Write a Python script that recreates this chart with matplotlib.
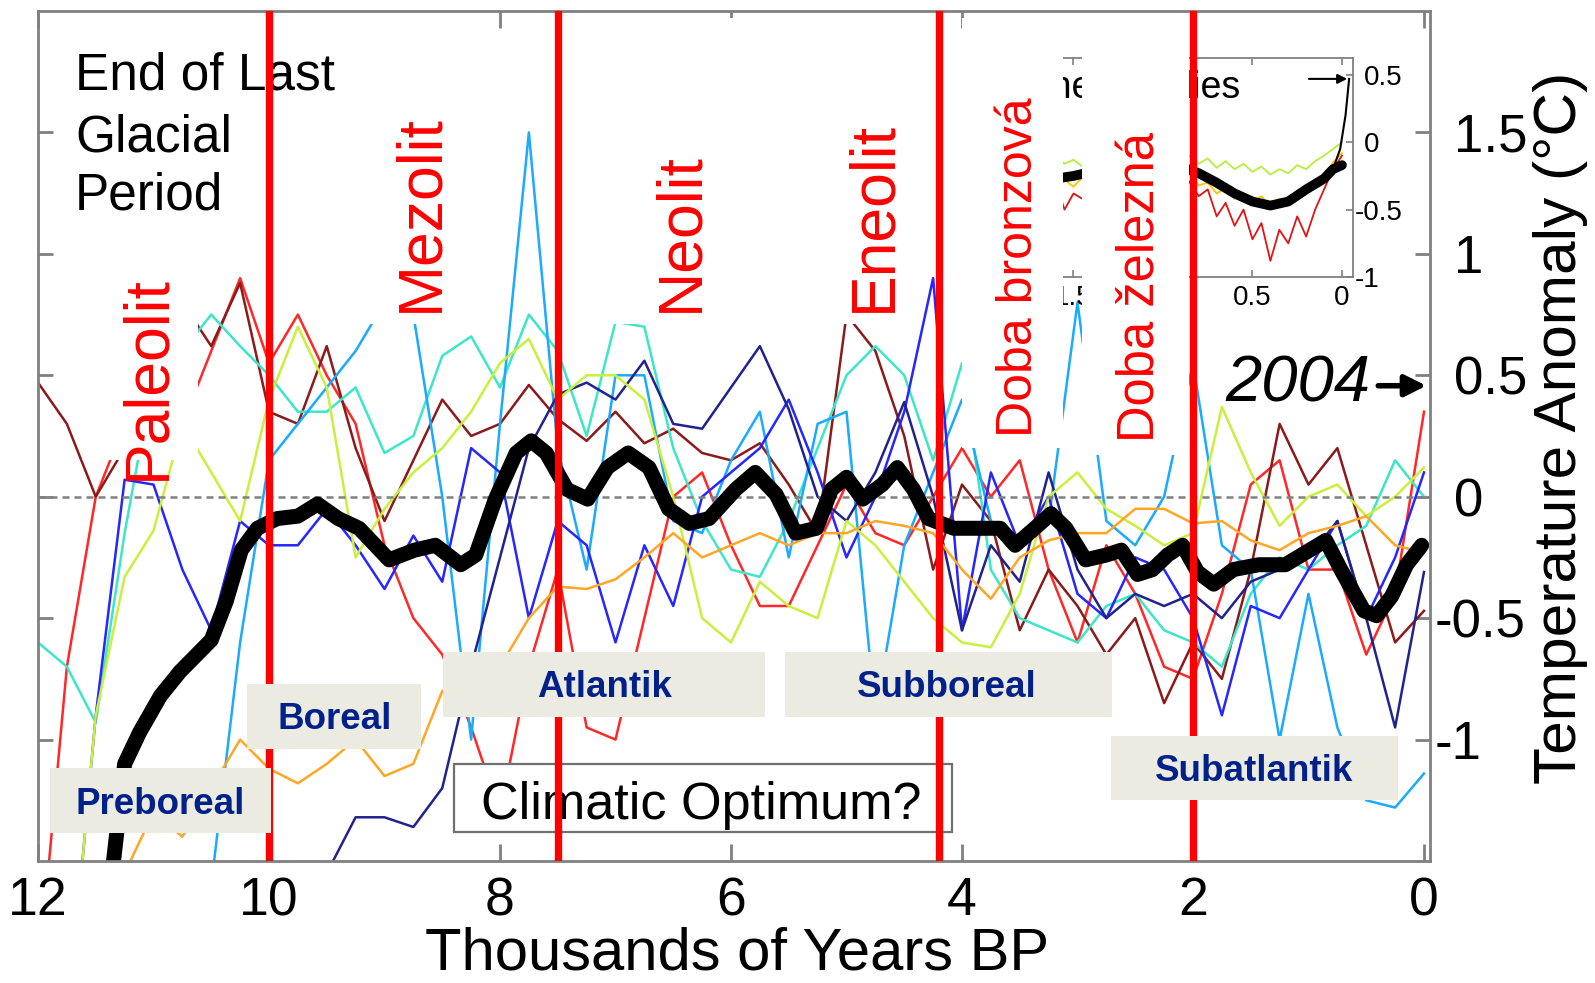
import numpy as np
import matplotlib
matplotlib.use('Agg')
import matplotlib.pyplot as plt
from matplotlib.patches import Rectangle
from matplotlib.transforms import ScaledTranslation

plt.rcParams['font.family'] = ['Liberation Sans', 'DejaVu Sans']
nan = np.nan

#-------------------------------------------------------------------------------
# proxy reconstructions (thousands of years BP, temperature anomaly degC)
kyr = [12.0, 11.75, 11.5, 11.25, 11.0, 10.75, 10.5, 10.25, 10.0, 9.75, 9.5, 9.25,
       9.0, 8.75, 8.5, 8.25, 8.0, 7.75, 7.5, 7.25, 7.0, 6.75, 6.5, 6.25,
       6.0, 5.75, 5.5, 5.25, 5.0, 4.75, 4.5, 4.25, 4.0, 3.75, 3.5, 3.25,
       3.0, 2.75, 2.5, 2.25, 2.0, 1.75, 1.5, 1.25, 1.0, 0.75, 0.5, 0.25, 0.0]

red = [-2.0, -0.7, 0.0, 0.3, 0.5, 0.3, 0.6, 0.9, 0.55, 0.75, 0.5, 0.3,
       -0.2, -0.5, -0.65, -0.95, -1.3, -0.7, -0.3, -0.95, -1.0, -0.5, 0.0, 0.1,
       -0.2, -0.45, -0.45, -0.2, 0.05, -0.15, -0.2, 0.0, 0.2, 0.0, 0.15, -0.3,
       -0.6, -0.2, -0.4, -0.7, -0.75, -0.4, 0.05, 0.15, -0.3, -0.3, -0.65, -0.4, 0.35]
brown = [0.47, 0.3, 0.0, 0.2, 0.5, 0.8, 0.62, 0.88, 0.35, 0.3, 0.62, 0.2,
         -0.1, 0.15, 0.4, 0.25, 0.3, 0.46, 0.32, 0.23, 0.35, 0.22, 0.28, 0.18,
         0.15, 0.22, 0.05, -0.15, 0.75, 0.6, 0.25, -0.3, 0.05, -0.1, -0.55, -0.3,
         -0.45, -0.65, -0.5, -0.85, -0.6, -0.75, -0.3, 0.3, 0.05, 0.2, -0.2, -0.6, -0.47]
cyan = [-0.6, -0.7, -0.93, -0.15, 0.5, 0.6, 0.75, 0.62, 0.5, 0.35, 0.35, 0.45,
        0.18, 0.25, 0.58, 0.66, 0.45, 0.75, 0.6, 0.25, 0.72, 0.7, 0.2, -0.1,
        -0.3, -0.33, -0.1, 0.2, 0.5, 0.62, 0.5, 0.15, 0.55, -0.3, -0.5, -0.55,
        -0.6, -0.45, -0.4, -0.55, -0.6, -0.7, -0.4, -0.25, -0.3, -0.2, -0.12, 0.15, 0.0]
lightblue = [nan, nan, nan, nan, nan, nan, -1.6, -0.6, 0.15, 0.3, 0.45, 0.6,
             0.8, 0.75, 0.0, -1.0, 0.3, 1.5, 0.2, -0.3, 0.5, 0.5, -0.1, -0.15,
             0.15, 0.35, -0.25, 0.3, 0.35, -0.9, -0.2, 0.1, 0.4, -0.1, -0.2, -0.1,
             0.8, -0.1, -0.2, 0.0, 0.55, -0.2, -0.3, -1.0, -0.4, -0.95, -1.25, -1.28, -1.14]
blue = [nan, -2.2, -0.9, 0.07, 0.05, -0.3, -0.55, -0.1, -0.2, -0.2, -0.05, -0.2,
        -0.38, -0.16, -0.35, 0.2, 0.1, -0.5, -0.1, -0.2, -0.6, -0.2, -0.45, 0.0,
        0.1, 0.2, 0.4, 0.1, -0.25, 0.0, 0.35, 0.9, -0.55, 0.1, -0.2, 0.0,
        -0.4, -0.5, -0.25, -0.3, -0.5, -0.9, -0.45, -0.5, -0.3, -0.1, -0.5, -0.25, 0.1]
navy = [nan, nan, nan, nan, nan, nan, nan, nan, nan, -2.2, -1.55, -1.32,
        -1.32, -1.36, -1.2, -0.7, -0.25, 0.2, 0.42, 0.47, 0.4, 0.56, 0.3, 0.28,
        0.45, 0.62, 0.36, 0.0, -0.1, 0.1, 0.39, 0.0, -0.55, -0.2, -0.35, 0.1,
        -0.3, -0.5, -0.4, -0.45, -0.4, -0.5, -0.35, -0.3, -0.25, -0.1, -0.5, -0.95, -0.31]
yellowgreen = [nan, -2.2, -0.9, -0.33, -0.14, 0.3, 0.1, -0.1, 0.4, 0.7, 0.45, -0.25,
               -0.05, 0.1, 0.2, 0.35, 0.55, 0.65, 0.4, 0.5, 0.5, 0.4, 0.0, -0.5,
               -0.6, -0.35, -0.45, -0.5, -0.1, -0.2, -0.35, -0.5, -0.6, -0.62, -0.4, 0.0,
               0.1, -0.05, -0.12, -0.2, -0.15, 0.37, 0.1, -0.12, 0.0, 0.05, -0.08, 0.0, 0.12]
orange = [nan, nan, -2.0, -1.55, -1.3, -1.4, -1.2, -1.0, -1.12, -1.18, -1.1, -1.0,
          -1.15, -1.1, -0.8, -0.75, -0.7, -0.5, -0.37, -0.38, -0.34, -0.25, -0.15, -0.25,
          -0.2, -0.15, -0.2, -0.15, -0.15, -0.1, -0.12, -0.15, -0.3, -0.42, -0.25, -0.18,
          -0.15, -0.15, -0.05, -0.05, -0.11, -0.1, -0.18, -0.22, -0.15, -0.12, -0.08, -0.2, -0.23]

proxies = [red, brown, cyan, lightblue, blue, navy, yellowgreen, orange]
proxy_colors = ['#ff2828', '#8b1a1a', '#3ce6c8', '#1aaaff', '#2626ff', '#22228e',
                '#c8f03c', '#ffa624']

# average of all reconstructions
mean_kyr = [11.37, 11.25, 11.12, 10.94, 10.77, 10.5, 10.37, 10.24, 10.1, 9.93, 9.75, 9.58,
            9.4, 9.22, 8.96, 8.74, 8.56, 8.34, 8.21, 8.04, 7.86, 7.73, 7.6, 7.42,
            7.24, 7.07, 6.89, 6.71, 6.54, 6.36, 6.19, 5.96, 5.79, 5.61, 5.44, 5.26,
            5.13, 5.0, 4.86, 4.69, 4.56, 4.42, 4.29, 4.07, 3.85, 3.67, 3.54, 3.37,
            3.23, 3.1, 2.93, 2.75, 2.62, 2.48, 2.35, 2.22, 2.09, 1.96, 1.82, 1.65,
            1.43, 1.2, 0.99, 0.85, 0.72, 0.52, 0.41, 0.28, 0.15, 0.02]
mean_anom = [-1.6, -1.10, -0.97, -0.82, -0.72, -0.59, -0.43, -0.22, -0.13, -0.09, -0.08, -0.03,
             -0.09, -0.13, -0.26, -0.22, -0.20, -0.28, -0.24, -0.01, 0.18, 0.23, 0.18, 0.03,
             -0.01, 0.12, 0.18, 0.12, -0.05, -0.11, -0.09, 0.03, 0.10, 0.01, -0.15, -0.13,
             0.03, 0.08, -0.01, 0.05, 0.12, 0.03, -0.09, -0.13, -0.13, -0.13, -0.20, -0.13,
             -0.07, -0.13, -0.26, -0.24, -0.22, -0.32, -0.30, -0.24, -0.20, -0.31, -0.36, -0.30,
             -0.28, -0.28, -0.22, -0.18, -0.30, -0.47, -0.49, -0.41, -0.28, -0.20]

# inset: last ~1.7 kyr
inset_kyr = [1.70, 1.65, 1.60, 1.55, 1.50, 1.45, 1.40, 1.35, 1.30, 1.25, 1.20, 1.15,
             1.10, 1.05, 1.00, 0.95, 0.90, 0.85, 0.80, 0.75, 0.70, 0.65, 0.60, 0.55,
             0.50, 0.45, 0.40, 0.35, 0.30, 0.25, 0.20, 0.15, 0.10, 0.05, 0.00]
inset_green = [-0.12, -0.15, -0.10, -0.16, -0.13, -0.18, -0.12, -0.15, -0.2, -0.14, -0.17, -0.12,
               -0.16, -0.1, -0.15, -0.12, -0.18, -0.1, -0.16, -0.12, -0.19, -0.14, -0.2, -0.16,
               -0.22, -0.18, -0.24, -0.2, -0.23, -0.17, -0.2, -0.14, -0.1, -0.05, 0.0]
inset_yellow = [-0.25, -0.3, -0.22, -0.28, -0.33, -0.26, -0.3, -0.24, -0.31, -0.27, -0.22, -0.29,
                -0.25, -0.3, -0.26, -0.22, -0.28, -0.24, -0.32, -0.3, -0.38, -0.34, -0.42, -0.38,
                -0.45, -0.4, -0.48, -0.42, -0.45, -0.36, -0.38, -0.3, -0.25, -0.15, -0.08]
inset_red = [-0.35, -0.45, -0.3, -0.5, -0.38, -0.42, -0.3, -0.36, -0.28, -0.4, -0.32, -0.25,
             -0.35, -0.3, -0.22, -0.28, -0.2, -0.3, -0.4, -0.35, -0.55, -0.45, -0.62, -0.5,
             -0.72, -0.6, -0.88, -0.65, -0.75, -0.55, -0.7, -0.5, -0.35, -0.2, -0.1]
inset_mean_kyr = [1.7, 1.6, 1.5, 1.4, 1.3, 1.2, 1.1, 1.0, 0.9, 0.8, 0.7, 0.6, 0.5, 0.4,
                  0.3, 0.2, 0.1, 0.05, 0.0]
inset_mean = [-0.25, -0.27, -0.25, -0.22, -0.2, -0.18, -0.17, -0.16, -0.18, -0.23, -0.3,
              -0.38, -0.44, -0.47, -0.44, -0.35, -0.27, -0.2, -0.17]
instr_kyr = [0.05, 0.01, -0.02, -0.04]
instr_anom = [-0.2, -0.05, 0.2, 0.47]

# cultural / climatic periods
boundaries = [10.0, 7.5, 4.2, 2.0]
eras = ['Paleolit', 'Mezolit', 'Neolit', 'Eneolit', 'Doba bronzová', 'Doba železná']
periods = ['Preboreal', 'Boreal', 'Atlantik', 'Subboreal', 'Subatlantik']

#-------------------------------------------------------------------------------
fig = plt.figure(figsize=(15.95, 9.83), dpi=100)
rect = [38/1595, 1-861/983, 1392/1595, 850/983]
ax = fig.add_axes(rect, zorder=1)
ax_in = fig.add_axes([1037.7/1595, 1-277/983, 315/1595, 219/983], zorder=2)
ax_top = fig.add_axes(rect, zorder=3)

gray = '#808080'
for series, c in zip(proxies, proxy_colors):
    ax.plot(kyr, series, color=c, lw=1.8)
ax.axhline(0, color=gray, lw=1.8, ls=(0, (2.8, 2.0)))
ax.plot(mean_kyr, mean_anom, color='k', lw=10.8,
        solid_joinstyle='round', solid_capstyle='round')

ax.set_xlim(12, -0.052)
ax.set_ylim(-1.5, 2.0)
ax.set_xticks([12, 10, 8, 6, 4, 2, 0])
ax.set_xticklabels(['12', '10', '8', '6', '4', '2', '0'])
ax.set_yticks([-1, -0.5, 0, 0.5, 1, 1.5])
ax.set_yticklabels(['-1', '-0.5', '0', '0.5', '1', '1.5'])
ax.tick_params(axis='y', left=True, right=True, labelleft=False, labelright=True,
               direction='in', length=11, width=2, color=gray, labelsize=38, pad=17)
ax.tick_params(axis='x', top=True, bottom=True, direction='in', length=12,
               width=2, color=gray, labelsize=38.5, pad=11)
for s in ax.spines.values():
    s.set_color(gray)
    s.set_linewidth(2)

ax.set_xlabel('Thousands of Years BP', fontsize=43)
ax.xaxis.set_label_coords(0.502, -0.128)
ax.xaxis.label.set_va('baseline')
ax.set_ylabel('Temperature Anomaly (°C)', fontsize=43.5)
ax.yaxis.set_label_position('right')
ax.yaxis.label.set_rotation(90)
ax.yaxis.label.set_rotation_mode('anchor')
ax.yaxis.label.set_va('center')
ax.yaxis.set_label_coords(1.0934, 0.51)

# minus sign hangs left of the digits
shift = ScaledTranslation(-0.19, 0, fig.dpi_scale_trans)
for t in ax.yaxis.get_major_ticks():
    if t.label2.get_text().startswith('-'):
        t.label2.set_transform(t.label2.get_transform() + shift)

#-------------------------------------------------------------------------------
# inset
ax_in.plot(inset_kyr, inset_green, color='#b4f03c', lw=1.3)
ax_in.plot(inset_kyr, inset_yellow, color='#ffc400', lw=1.3)
ax_in.plot(inset_kyr, inset_red, color='#e01414', lw=1.3)
ax_in.plot(inset_mean_kyr, inset_mean, color='k', lw=7, solid_capstyle='round')
ax_in.plot(instr_kyr, instr_anom, color='k', lw=1.5)
ax_in.annotate('', xy=(-0.045, 0.47), xytext=(0.2, 0.47),
               arrowprops=dict(arrowstyle='-|>', color='k', lw=1.5, mutation_scale=14))
ax_in.text(0.57, 0.331, 'Other Studies', ha='right', va='baseline', fontsize=27)
ax_in.set_xlim(1.7, -0.06)
ax_in.set_ylim(-1, 0.625)
ax_in.set_xticks([1.5, 1, 0.5, 0])
ax_in.set_xticklabels(['1.5', '', '0.5', '0'])
ax_in.set_yticks([-1, -0.5, 0, 0.5])
ax_in.set_yticklabels(['-1', '-0.5', '0', '0.5'])
ax_in.tick_params(axis='x', top=True, direction='in', length=5, width=1.2,
                  color=gray, labelsize=20, pad=6)
ax_in.tick_params(axis='y', left=True, right=True, labelleft=False, labelright=True,
                  direction='in', length=5, width=1.2, color=gray, labelsize=20, pad=8)
for s in ax_in.spines.values():
    s.set_color(gray)
    s.set_linewidth(1.3)
shift_in = ScaledTranslation(-0.09, 0, fig.dpi_scale_trans)
for t in ax_in.yaxis.get_major_ticks():
    if t.label2.get_text().startswith('-'):
        t.label2.set_transform(t.label2.get_transform() + shift_in)

#-------------------------------------------------------------------------------
# annotation layer
ax_top.set_xlim(12, -0.052)
ax_top.set_ylim(-1.5, 2.0)
ax_top.axis('off')

white_boxes = [(10.615, 11.619, 0.15, 1.05), (8.459, 9.169, 0.71, 1.97),
               (4.381, 7.524, 0.71, 1.97), (3.126, 4.0, 0.2, 1.97),
               (2.035, 2.961, 0.17, 1.97)]
for x0, x1, y0, y1 in white_boxes:
    ax_top.add_patch(Rectangle((x0, y0), x1 - x0, y1 - y0, facecolor='white',
                               edgecolor='none', zorder=1))

era_pos = [(10.909, 0.07, 45), (8.545, 0.761, 45), (6.294, 0.761, 45),
           (4.623, 0.761, 45), (3.394, 0.247, 36), (2.329, 0.226, 36.5)]
for name, (x, y, fs) in zip(eras, era_pos):
    ax_top.text(x, y, name, rotation=90, rotation_mode='anchor', ha='left',
                va='baseline', color='#ff0000', fontsize=fs, zorder=2)

for line, yb in zip(['End of Last', 'Glacial', 'Period'], [1.675, 1.420, 1.181]):
    ax_top.text(11.68, yb, line, fontsize=37, ha='left', va='baseline', zorder=2)

ax_top.add_patch(Rectangle((4.087, -1.379), 4.311, 0.28, facecolor='white',
                           edgecolor='#707070', lw=1.6, zorder=3))
ax_top.text(6.26, -1.329, 'Climatic Optimum?', fontsize=37.5, ha='center',
            va='baseline', zorder=3)

for b in boundaries:
    ax_top.axvline(b, color='#ff0000', lw=5.3, zorder=4)

period_boxes = [(9.983, 11.896, -1.383, -1.119, 10.944, -1.305),
                (8.684, 10.19, -1.037, -0.770, 9.429, -0.957),
                (5.706, 8.494, -0.905, -0.638, 7.091, -0.825),
                (2.701, 5.532, -0.905, -0.638, 4.130, -0.825),
                (0.225, 2.710, -1.247, -0.984, 1.472, -1.169)]
for name, (x0, x1, y0, y1, tx, ty) in zip(periods, period_boxes):
    ax_top.add_patch(Rectangle((x0, y0), x1 - x0, y1 - y0, facecolor='#ecebe1',
                               edgecolor='none', zorder=5))
    ax_top.text(tx, ty, name, fontsize=26.5, fontweight='bold', color='#00208a',
                ha='center', va='baseline', zorder=6)

ax_top.text(0.468, 0.391, '2004', fontsize=47, style='italic', ha='right',
            va='baseline', zorder=6)
ax_top.annotate('', xy=(-0.045, 0.457), xytext=(0.42, 0.457),
                arrowprops=dict(arrowstyle='-|>', color='k', lw=4, mutation_scale=32),
                zorder=6)

fig.savefig('out.png', dpi=100)
